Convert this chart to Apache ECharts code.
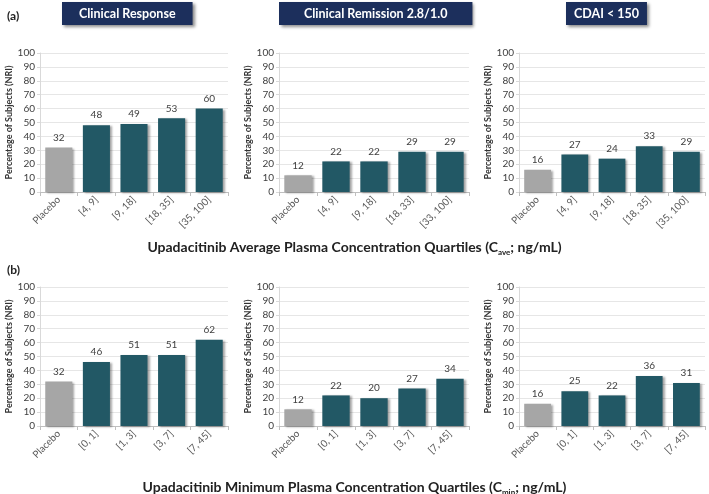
<!DOCTYPE html>
<html>
<head>
<meta charset="utf-8">
<script src="https://cdn.jsdelivr.net/npm/echarts@6/dist/echarts.min.js"></script>
<style>html,body{margin:0;padding:0;background:#fff}#c{width:709px;height:494px}</style>
</head>
<body>
<div id="c"></div>
<script>
// ---- data ----
const catAveResponse = ['Placebo', '[4, 9]', '[9, 18]', '[18, 35]', '[35, 100]'];
const catAveRemission = ['Placebo', '[4, 9]', '[9, 18]', '[18, 33]', '[33, 100]'];
const catAveCdai = ['Placebo', '[4, 9]', '[9, 18]', '[18, 35]', '[35, 100]'];
const catMin = ['Placebo', '[0, 1]', '[1, 3]', '[3, 7]', '[7, 45]'];

const aveResponse = [32, 48, 49, 53, 60];
const aveRemission = [12, 22, 22, 29, 29];
const aveCdai = [16, 27, 24, 33, 29];
const minResponse = [32, 46, 51, 51, 62];
const minRemission = [12, 22, 20, 27, 34];
const minCdai = [16, 25, 22, 36, 31];

const panelTitles = ['Clinical Response', 'Clinical Remission 2.8/1.0', 'CDAI < 150'];
const yAxisName = 'Percentage of Subjects (NRI)';
const yTicks = { min: 0, max: 100, interval: 10 };

// ---- layout ----
const FONT = 'Lato';
const cols = [{ left: 40, right: 709 - 228 }, { left: 279, right: 709 - 469 }, { left: 519, right: 709 - 705 }];
const rows = [{ top: 53, height: 139 }, { top: 287, height: 139 }];
const panels = [
  { cats: catAveResponse, vals: aveResponse },
  { cats: catAveRemission, vals: aveRemission },
  { cats: catAveCdai, vals: aveCdai },
  { cats: catMin, vals: minResponse },
  { cats: catMin, vals: minRemission },
  { cats: catMin, vals: minCdai }
];

const grid = [], xAxis = [], yAxis = [], series = [];
panels.forEach((p, i) => {
  const r = rows[Math.floor(i / 3)], c = cols[i % 3];
  grid.push({ left: c.left, right: c.right, top: r.top, height: r.height, containLabel: false });
  xAxis.push({
    type: 'category', gridIndex: i, data: p.cats,
    axisLine: { lineStyle: { color: '#bfbfbf', width: 1 } },
    axisTick: { show: true, alignWithLabel: false, length: 4, lineStyle: { color: '#bfbfbf' } },
    axisLabel: { rotate: 45, fontSize: 10, color: '#595959', fontFamily: FONT, margin: 6, interval: 0 }
  });
  yAxis.push({
    type: 'value', gridIndex: i, min: yTicks.min, max: yTicks.max, interval: yTicks.interval,
    name: yAxisName, nameLocation: 'middle', nameGap: 26, nameRotate: 90,
    nameTextStyle: { fontSize: 9, fontWeight: 'bold', color: '#333', fontFamily: FONT },
    axisLine: { show: true, lineStyle: { color: '#d9d9d9' } },
    axisTick: { show: true, length: 3, lineStyle: { color: '#d9d9d9' } },
    axisLabel: { fontSize: 10, color: '#404040', fontFamily: FONT, margin: 5 },
    splitLine: { lineStyle: { color: '#e6e6e6' } }
  });
  series.push({
    type: 'bar', xAxisIndex: i, yAxisIndex: i, data: p.vals, barWidth: '72%',
    itemStyle: {
      color: (d) => d.dataIndex === 0 ? '#a6a6a6' : '#225865',
      shadowColor: 'rgba(0,0,0,0.35)', shadowBlur: 2, shadowOffsetX: 2, shadowOffsetY: 1
    },
    label: { show: true, position: 'top', fontSize: 10, color: '#404040', fontFamily: FONT, distance: 5 }
  });
});

const boxStyle = (txt, left, padH) => ({
  text: txt, left: left, top: 2,
  backgroundColor: '#1c2f5c', padding: [5, padH, 5, padH],
  shadowColor: 'rgba(0,0,0,0.45)', shadowBlur: 3, shadowOffsetX: 2, shadowOffsetY: 2,
  textStyle: { color: '#fff', fontSize: 12.5, fontWeight: 'bold', fontFamily: FONT, lineHeight: 13 }
});

const subRich = {
  m: { fontSize: 14, fontWeight: 'bold', color: '#222', fontFamily: FONT, lineHeight: 18, verticalAlign: 'bottom' },
  s: { fontSize: 8, fontWeight: 'bold', color: '#222', fontFamily: FONT, lineHeight: 18, verticalAlign: 'bottom', padding: [0, 0, -2, 0] }
};

const option = {
  animation: false,
  backgroundColor: '#fff',
  title: [
    boxStyle(panelTitles[0], 62, 17),
    boxStyle(panelTitles[1], 279, 25),
    boxStyle(panelTitles[2], 566, 8),
    { text: '{m|Upadacitinib Average Plasma Concentration Quartiles (C}{s|ave}{m|; ng/mL)}', left: 'center', top: 231,
      textStyle: { rich: subRich } },
    { text: '{m|Upadacitinib Minimum Plasma Concentration Quartiles (C}{s|min}{m|; ng/mL)}', left: 'center', top: 471,
      textStyle: { rich: subRich } },
    { text: '(a)', left: 2, top: 5, textStyle: { fontSize: 12, fontWeight: 'bold', color: '#222', fontFamily: FONT } },
    { text: '(b)', left: 2, top: 259, textStyle: { fontSize: 12, fontWeight: 'bold', color: '#222', fontFamily: FONT } }
  ],
  grid, xAxis, yAxis, series
};

const chart = echarts.init(document.getElementById('c'), null, { renderer: 'canvas' });
chart.setOption(option);
</script>
</body>
</html>
